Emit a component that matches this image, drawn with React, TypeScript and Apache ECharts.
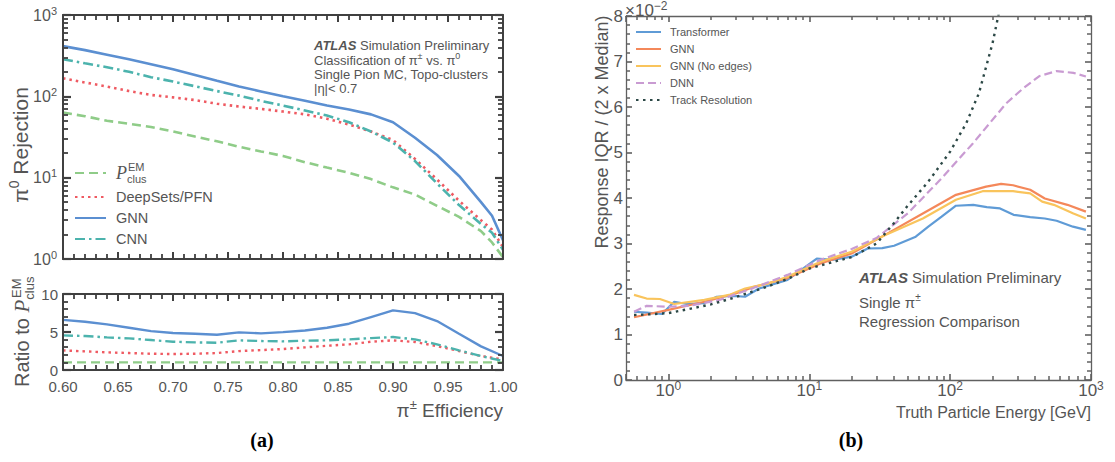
import React, { useEffect, useRef } from 'react';
import * as echarts from 'echarts';

const FONT = "'Liberation Sans', Arial, Helvetica, sans-serif";
const SERIF = "'Liberation Serif', 'DejaVu Serif', serif";
const TXT = '#555555';
const AXA = '#404040';
const AXB = '#606060';

// ---------- Panel (a): pi0 rejection vs pi± efficiency ----------
const effA = [0.60, 0.62, 0.64, 0.66, 0.68, 0.70, 0.72, 0.74, 0.76, 0.78, 0.80, 0.82, 0.84, 0.86, 0.88, 0.90, 0.92, 0.94, 0.96, 0.98, 0.99, 1.00];
const rejGNN = [414, 370, 325, 285, 248, 215, 183, 155, 132, 115, 100, 88, 77, 69, 60, 48, 31, 19, 10.5, 5.0, 3.4, 1.7];
const rejCNN = [286, 255, 228, 200, 172, 152, 133, 116, 102, 88, 77, 67, 58, 48, 37, 27, 16, 8.5, 4.6, 2.7, 2.1, 1.3];
const rejPFN = [167, 148, 132, 116, 104, 97, 90, 81, 75, 70, 65, 60, 53, 45, 37, 29, 17, 9.5, 5.2, 3.0, 2.3, 1.4];
const rejEM = [63, 57, 50, 46, 42, 37, 32, 28, 24, 21, 18.5, 15.5, 13.3, 11.5, 9.6, 7.6, 6.2, 4.5, 3.3, 2.2, 1.6, 1.05];

// ratio to P_clus^EM
const effR = [0.60, 0.62, 0.64, 0.66, 0.68, 0.70, 0.72, 0.74, 0.76, 0.78, 0.80, 0.82, 0.84, 0.86, 0.88, 0.90, 0.92, 0.94, 0.96, 0.98, 1.00];
const ratGNN = [6.6, 6.35, 6.0, 5.56, 5.12, 4.86, 4.77, 4.64, 4.95, 4.82, 4.99, 5.2, 5.56, 6.09, 6.97, 7.84, 7.49, 6.44, 4.77, 3.11, 1.84];
const ratCNN = [4.55, 4.47, 4.29, 4.16, 3.94, 3.72, 3.63, 3.59, 3.9, 3.81, 3.77, 3.86, 3.9, 4.03, 4.2, 4.34, 4.03, 3.37, 2.58, 1.84, 1.18];
const ratPFN = [2.58, 2.45, 2.32, 2.23, 2.14, 2.1, 2.14, 2.23, 2.49, 2.62, 2.76, 2.97, 3.19, 3.37, 3.72, 3.9, 3.68, 3.15, 2.49, 1.84, 1.4];
const ratEM = [1, 1, 1, 1, 1, 1, 1, 1, 1, 1, 1, 1, 1, 1, 1, 1, 1, 1, 1, 1, 1];

// ---------- Panel (b): response IQR / (2 x median), in units of 1e-2 ----------
const eTransformer = [0.57, 0.7, 0.9, 1.1, 1.35, 1.8, 2.2, 2.9, 3.5, 4.4, 7, 11.3, 14.6, 20, 26, 33, 40, 57, 70, 87, 110, 146, 182, 226, 282, 370, 470, 570, 745, 920];
const resTransformer = [1.5, 1.48, 1.45, 1.72, 1.67, 1.69, 1.83, 1.85, 1.83, 2.01, 2.2, 2.67, 2.64, 2.71, 2.89, 2.9, 2.95, 3.15, 3.37, 3.59, 3.83, 3.85, 3.8, 3.77, 3.63, 3.58, 3.55, 3.5, 3.37, 3.3];
const eGNNb = [0.57, 1.0, 1.8, 3, 4, 7, 12, 20, 35, 64, 110, 180, 230, 280, 370, 470, 680, 920];
const resGNNb = [1.38, 1.54, 1.72, 1.9, 2.04, 2.24, 2.56, 2.78, 3.2, 3.66, 4.07, 4.25, 4.31, 4.28, 4.18, 3.99, 3.85, 3.7];
const eNoEdges = [0.57, 0.7, 0.87, 1.1, 1.8, 2.7, 3.5, 5.1, 7, 12, 20, 35, 64, 110, 170, 280, 370, 450, 545, 750, 920];
const resNoEdges = [1.87, 1.79, 1.78, 1.67, 1.76, 1.87, 2.01, 2.12, 2.27, 2.6, 2.82, 3.19, 3.55, 3.96, 4.15, 4.15, 4.1, 3.92, 3.85, 3.66, 3.55];
const eDNN = [0.57, 0.7, 1.0, 1.4, 2.3, 4, 7, 12, 20, 30, 50, 85, 145, 250, 330, 430, 570, 750, 920];
const resDNN = [1.5, 1.63, 1.61, 1.63, 1.76, 2.02, 2.31, 2.64, 2.88, 3.12, 3.66, 4.4, 5.2, 6.08, 6.41, 6.68, 6.79, 6.75, 6.67];
const eTrack = [0.57, 0.7, 1, 1.5, 2, 3, 5, 7, 10, 15, 20, 30, 40, 50, 70, 100, 130, 160, 200, 230];
const resTrack = [1.43, 1.44, 1.47, 1.58, 1.66, 1.82, 2.05, 2.22, 2.45, 2.6, 2.7, 3.0, 3.45, 3.83, 4.36, 5.02, 5.64, 6.3, 7.4, 8.3];

const NAME_EM = 'P_clus^EM';
const legendA = [NAME_EM, 'DeepSets/PFN', 'GNN', 'CNN'];
const legendB = ['Transformer', 'GNN (b)', 'GNN (No edges)', 'DNN', 'Track Resolution'];

const zip = (xs: number[], ys: number[]) => xs.map((x, i) => [x, ys[i]]);

const line = (name: string, xs: number[], ys: number[], color: string, type: any, width: number, xi: number, yi: number) => ({
  type: 'line', name, data: zip(xs, ys), xAxisIndex: xi, yAxisIndex: yi,
  symbol: 'none', showSymbol: false, smooth: false, silent: true,
  lineStyle: { color, width, type }, itemStyle: { color },
});

// log-decade minor tick positions, in log10 units for helper value axes
const logPos = (decades: number[], ks: number[]) => decades.flatMap((d) => ks.map((k) => Math.log10(k) + d));
const minorsA = logPos([0, 1, 2], [2, 3, 4, 5, 6, 7, 8, 9]);
const minorsB = [...logPos([-1], [6, 7, 8, 9]), ...logPos([0, 1, 2], [2, 3, 4, 5, 6, 7, 8, 9])];

const pow10 = (v: number) => {
  const l = Math.log10(v);
  const n = Math.round(l);
  if (Math.abs(l - n) > 1e-3) return '';
  return '{b|10}{s|' + n + '}';
};

const supRich = (base: number, sup: number, lh: number) => ({
  b: { fontSize: base, fontFamily: FONT, color: TXT, lineHeight: lh },
  s: { fontSize: sup, fontFamily: FONT, color: TXT, lineHeight: sup, verticalAlign: 'top' },
});

const tok = (size: number, extra: any = {}) => ({ fontSize: size, fontFamily: FONT, fill: TXT, color: TXT, ...extra });

const colA = { GNN: '#5b8fd1', CNN: '#4cb3ad', PFN: '#ef5a62', EM: '#8fcc88' };
const colB = { tr: '#5f9bd6', gnn: '#f4885a', ne: '#f9c45c', dnn: '#c99bd2', trk: '#2c4846' };

const dashEM = [9, 5];
const dotPFN = [2.5, 4];
const dashDotCNN = [10, 4, 2.5, 4];

const axisLine = (color: string, width: number) => ({ show: true, onZero: false, lineStyle: { color, width } });
const ticks = (color: string, length: number, width: number) => ({ show: true, inside: true, length, lineStyle: { color, width } });
const noLine = { show: false, onZero: false };

function buildOption(): any {
  const aX = {
    z: 10,
    min: 0.6, max: 1.0, interval: 0.05,
    axisLine: axisLine(AXA, 2),
    axisTick: ticks(AXA, 7, 2),
    minorTick: { show: true, splitNumber: 5, length: 5, lineStyle: { color: AXA, width: 1.8 } },
    splitLine: { show: false },
  };
  const xAxis = [
    { type: 'value', gridIndex: 0, position: 'bottom', ...aX, axisLabel: { show: false } },
    { type: 'value', gridIndex: 0, position: 'top', ...aX, axisLabel: { show: false } },
    {
      type: 'value', gridIndex: 1, position: 'bottom', ...aX,
      axisLabel: { show: true, fontSize: 15, fontFamily: FONT, color: TXT, margin: 9, formatter: (v: number) => v.toFixed(2) },
    },
    { type: 'value', gridIndex: 1, position: 'top', ...aX, axisLabel: { show: false } },
    {
      type: 'log', gridIndex: 2, position: 'bottom', min: 0.5, max: 1000, z: 10,
      axisLine: axisLine(AXB, 1.3), axisTick: ticks(AXB, 6, 1.6), splitLine: { show: false },
      axisLabel: { show: true, margin: 0, formatter: pow10, rich: supRich(17, 12, 20) },
    },
    {
      type: 'log', gridIndex: 2, position: 'top', min: 0.5, max: 1000, z: 10,
      axisLine: axisLine(AXB, 1.3), axisTick: ticks(AXB, 6, 1.6), splitLine: { show: false }, axisLabel: { show: false },
    },
    {
      type: 'value', gridIndex: 2, position: 'bottom', min: Math.log10(0.5), max: 3, z: 10,
      axisLine: noLine, axisTick: { ...ticks(AXB, 4, 1.5), customValues: minorsB }, splitLine: { show: false }, axisLabel: { show: false },
    },
    {
      type: 'value', gridIndex: 2, position: 'top', min: Math.log10(0.5), max: 3, z: 10,
      axisLine: noLine, axisTick: { ...ticks(AXB, 4, 1.5), customValues: minorsB }, splitLine: { show: false }, axisLabel: { show: false },
    },
  ];

  const yAxis = [
    {
      type: 'log', gridIndex: 0, position: 'left', min: 1, max: 1000, z: 10,
      axisLine: axisLine(AXA, 2), axisTick: ticks(AXA, 8, 2.2), splitLine: { show: false },
      axisLabel: { show: true, margin: 6, formatter: pow10, rich: supRich(16, 11, 20) },
    },
    {
      type: 'log', gridIndex: 0, position: 'right', min: 1, max: 1000, z: 10,
      axisLine: axisLine(AXA, 2), axisTick: ticks(AXA, 8, 2.2), splitLine: { show: false }, axisLabel: { show: false },
    },
    {
      type: 'value', gridIndex: 0, position: 'left', min: 0, max: 3, z: 10,
      axisLine: noLine, axisTick: { ...ticks(AXA, 5, 1.8), customValues: minorsA }, splitLine: { show: false }, axisLabel: { show: false },
    },
    {
      type: 'value', gridIndex: 0, position: 'right', min: 0, max: 3, z: 10,
      axisLine: noLine, axisTick: { ...ticks(AXA, 5, 1.8), customValues: minorsA }, splitLine: { show: false }, axisLabel: { show: false },
    },
    {
      type: 'value', gridIndex: 1, position: 'left', min: 0, max: 10, interval: 5, z: 10,
      axisLine: axisLine(AXA, 2), axisTick: ticks(AXA, 8, 2.2),
      minorTick: { show: true, splitNumber: 5, length: 5, lineStyle: { color: AXA, width: 1.8 } },
      splitLine: { show: false },
      axisLabel: { show: true, fontSize: 15, fontFamily: FONT, color: TXT, margin: 5 },
    },
    {
      type: 'value', gridIndex: 1, position: 'right', min: 0, max: 10, interval: 5, z: 10,
      axisLine: axisLine(AXA, 2), axisTick: ticks(AXA, 8, 2.2),
      minorTick: { show: true, splitNumber: 5, length: 5, lineStyle: { color: AXA, width: 1.8 } },
      splitLine: { show: false }, axisLabel: { show: false },
    },
    {
      type: 'value', gridIndex: 2, position: 'left', min: 0, max: 8, interval: 1, z: 10,
      axisLine: axisLine(AXB, 1.3), axisTick: ticks(AXB, 6, 1.6),
      minorTick: { show: true, splitNumber: 5, length: 4, lineStyle: { color: AXB, width: 1.5 } },
      splitLine: { show: false },
      axisLabel: { show: true, fontSize: 17, fontFamily: FONT, color: TXT, margin: 3 },
    },
    {
      type: 'value', gridIndex: 2, position: 'right', min: 0, max: 8, interval: 1, z: 10,
      axisLine: axisLine(AXB, 1.3), axisTick: ticks(AXB, 6, 1.6),
      minorTick: { show: true, splitNumber: 5, length: 4, lineStyle: { color: AXB, width: 1.5 } },
      splitLine: { show: false }, axisLabel: { show: false },
    },
  ];

  const series = [
    line(NAME_EM, effA, rejEM, colA.EM, dashEM, 2.6, 0, 0),
    line('DeepSets/PFN', effA, rejPFN, colA.PFN, dotPFN, 2.6, 0, 0),
    line('GNN', effA, rejGNN, colA.GNN, 'solid', 2.6, 0, 0),
    line('CNN', effA, rejCNN, colA.CNN, dashDotCNN, 2.6, 0, 0),
    line('EM ratio', effR, ratEM, colA.EM, dashEM, 2.4, 2, 4),
    line('DeepSets/PFN ratio', effR, ratPFN, colA.PFN, dotPFN, 2.4, 2, 4),
    line('GNN ratio', effR, ratGNN, colA.GNN, 'solid', 2.4, 2, 4),
    line('CNN ratio', effR, ratCNN, colA.CNN, dashDotCNN, 2.4, 2, 4),
    line('Transformer', eTransformer, resTransformer, colB.tr, 'solid', 2.2, 4, 6),
    line('GNN (b)', eGNNb, resGNNb, colB.gnn, 'solid', 2.2, 4, 6),
    line('GNN (No edges)', eNoEdges, resNoEdges, colB.ne, 'solid', 2.2, 4, 6),
    line('DNN', eDNN, resDNN, colB.dnn, [8, 4], 2.2, 4, 6),
    line('Track Resolution', eTrack, resTrack, colB.trk, [2.5, 4.5], 2.4, 4, 6),
  ];

  const legend = [
    {
      left: 74, top: 162, padding: 0, orient: 'vertical', itemWidth: 31, itemHeight: 10, itemGap: 5,
      data: legendA, selectedMode: false, itemStyle: { opacity: 0 },
      formatter: (n: string) => (n === NAME_EM ? '{p|P}{sub|clus}' : '{n|' + n + '}'),
      textStyle: {
        fontSize: 14.5, fontFamily: FONT, color: TXT, lineHeight: 16,
        rich: {
          n: { fontSize: 14.5, fontFamily: FONT, color: TXT, lineHeight: 16, padding: [0, 0, 0, 5] },
          p: { fontSize: 18, fontFamily: SERIF, fontStyle: 'italic', color: TXT, lineHeight: 22, padding: [0, 0, 0, 5] },
          sub: { fontSize: 11, fontFamily: FONT, color: TXT, lineHeight: 11, verticalAlign: 'bottom' },
        },
      },
    },
    {
      left: 635, top: 26, padding: 0, orient: 'vertical', itemWidth: 25, itemHeight: 10, itemGap: 5,
      data: legendB, selectedMode: false, itemStyle: { opacity: 0 },
      formatter: (n: string) => '{n|' + n.replace(' (b)', '') + '}',
      textStyle: {
        fontSize: 11, fontFamily: FONT, color: TXT, lineHeight: 12,
        rich: { n: { fontSize: 11, fontFamily: FONT, color: TXT, lineHeight: 12, padding: [0, 0, 0, 4] } },
      },
    },
  ];

  const graphic = [
    {
      type: 'text', x: 20, y: 145, rotation: Math.PI / 2, silent: true,
      style: {
        text: '{g|π}{s|0}{g| Rejection}', align: 'center', verticalAlign: 'middle', ...tok(21),
        rich: { g: tok(21, { lineHeight: 26 }), s: tok(14, { lineHeight: 14, verticalAlign: 'top' }) },
      },
    },
    {
      type: 'text', x: 22, y: 387, rotation: Math.PI / 2, silent: true,
      style: {
        text: '{g|Ratio to }{p|P}{sub|clus}', align: 'left', verticalAlign: 'middle', ...tok(20),
        rich: {
          g: tok(20, { lineHeight: 28 }),
          p: tok(21, { fontFamily: SERIF, fontStyle: 'italic', lineHeight: 28 }),
          sub: tok(13, { lineHeight: 13, verticalAlign: 'bottom' }),
        },
      },
    },
    { type: 'text', x: 16, y: 298, rotation: Math.PI / 2, silent: true, style: { text: 'EM', align: 'left', verticalAlign: 'middle', ...tok(13) } },
    { type: 'text', x: 128, y: 167, silent: true, style: { text: 'EM', align: 'left', verticalAlign: 'middle', ...tok(11) } },
    {
      type: 'text', x: 503, y: 410, silent: true,
      style: {
        text: '{g|π}{s|±}{g| Efficiency}', align: 'right', verticalAlign: 'middle', ...tok(19),
        rich: { g: tok(19, { lineHeight: 24 }), s: tok(13, { lineHeight: 13, verticalAlign: 'top' }) },
      },
    },
    {
      type: 'text', x: 314, y: 45, silent: true,
      style: {
        text: '{bi|ATLAS}{n| Simulation Preliminary}', align: 'left', verticalAlign: 'middle', ...tok(13),
        rich: { bi: tok(13, { fontWeight: 'bold', fontStyle: 'italic', lineHeight: 16 }), n: tok(13, { lineHeight: 16 }) },
      },
    },
    {
      type: 'text', x: 314, y: 60, silent: true,
      style: {
        text: '{n|Classification of π}{s|±}{n| vs. π}{s|0}', align: 'left', verticalAlign: 'middle', ...tok(13),
        rich: { n: tok(13, { lineHeight: 17 }), s: tok(9, { lineHeight: 9, verticalAlign: 'top' }) },
      },
    },
    { type: 'text', x: 314, y: 74, silent: true, style: { text: 'Single Pion MC, Topo-clusters', align: 'left', verticalAlign: 'middle', ...tok(13) } },
    { type: 'text', x: 314, y: 88, silent: true, style: { text: '|η|< 0.7', align: 'left', verticalAlign: 'middle', ...tok(13) } },
    { type: 'text', x: 262, y: 440, silent: true, style: { text: '(a)', align: 'center', verticalAlign: 'middle', fontSize: 20, fontWeight: 'bold', fontFamily: SERIF, fill: '#000' } },
    { type: 'text', x: 851, y: 440, silent: true, style: { text: '(b)', align: 'center', verticalAlign: 'middle', fontSize: 20, fontWeight: 'bold', fontFamily: SERIF, fill: '#000' } },
    {
      type: 'text', x: 625, y: 10, silent: true,
      style: {
        text: '{g|×10}{s|−2}', align: 'left', verticalAlign: 'middle', ...tok(17),
        rich: { g: tok(17, { lineHeight: 20 }), s: tok(12, { lineHeight: 12, verticalAlign: 'top' }) },
      },
    },
    {
      type: 'text', x: 602, y: 132, rotation: Math.PI / 2, silent: true,
      style: { text: 'Response IQR / (2 x Median)', align: 'center', verticalAlign: 'middle', ...tok(18) },
    },
    { type: 'text', x: 1091, y: 412, silent: true, style: { text: 'Truth Particle Energy [GeV]', align: 'right', verticalAlign: 'middle', ...tok(16) } },
    {
      type: 'text', x: 859, y: 277, silent: true,
      style: {
        text: '{bi|ATLAS}{n| Simulation Preliminary}', align: 'left', verticalAlign: 'middle', ...tok(15),
        rich: { bi: tok(15, { fontWeight: 'bold', fontStyle: 'italic', lineHeight: 18 }), n: tok(15, { lineHeight: 18 }) },
      },
    },
    {
      type: 'text', x: 859, y: 302, silent: true,
      style: {
        text: '{n|Single π}{s|±}', align: 'left', verticalAlign: 'middle', ...tok(15),
        rich: { n: tok(15, { lineHeight: 19 }), s: tok(10, { lineHeight: 10, verticalAlign: 'top' }) },
      },
    },
    { type: 'text', x: 859, y: 321, silent: true, style: { text: 'Regression Comparison', align: 'left', verticalAlign: 'middle', ...tok(15) } },
  ];

  return {
    animation: false,
    backgroundColor: '#ffffff',
    textStyle: { fontFamily: FONT },
    grid: [
      { left: 63, top: 15, width: 440, height: 244 },
      { left: 63, top: 294, width: 440, height: 76 },
      { left: 626, top: 16, width: 465, height: 364 },
    ],
    xAxis,
    yAxis,
    legend,
    series,
    graphic,
  };
}

export default function App() {
  const ref = useRef<HTMLDivElement>(null);
  useEffect(() => {
    if (!ref.current) return;
    const chart = echarts.init(ref.current, null, { renderer: 'svg' });
    chart.setOption(buildOption());
    return () => chart.dispose();
  }, []);
  return (
    <div
      ref={ref}
      style={{ position: 'fixed', left: 0, top: 0, width: 1115, height: 462, background: '#fff' }}
    />
  );
}
